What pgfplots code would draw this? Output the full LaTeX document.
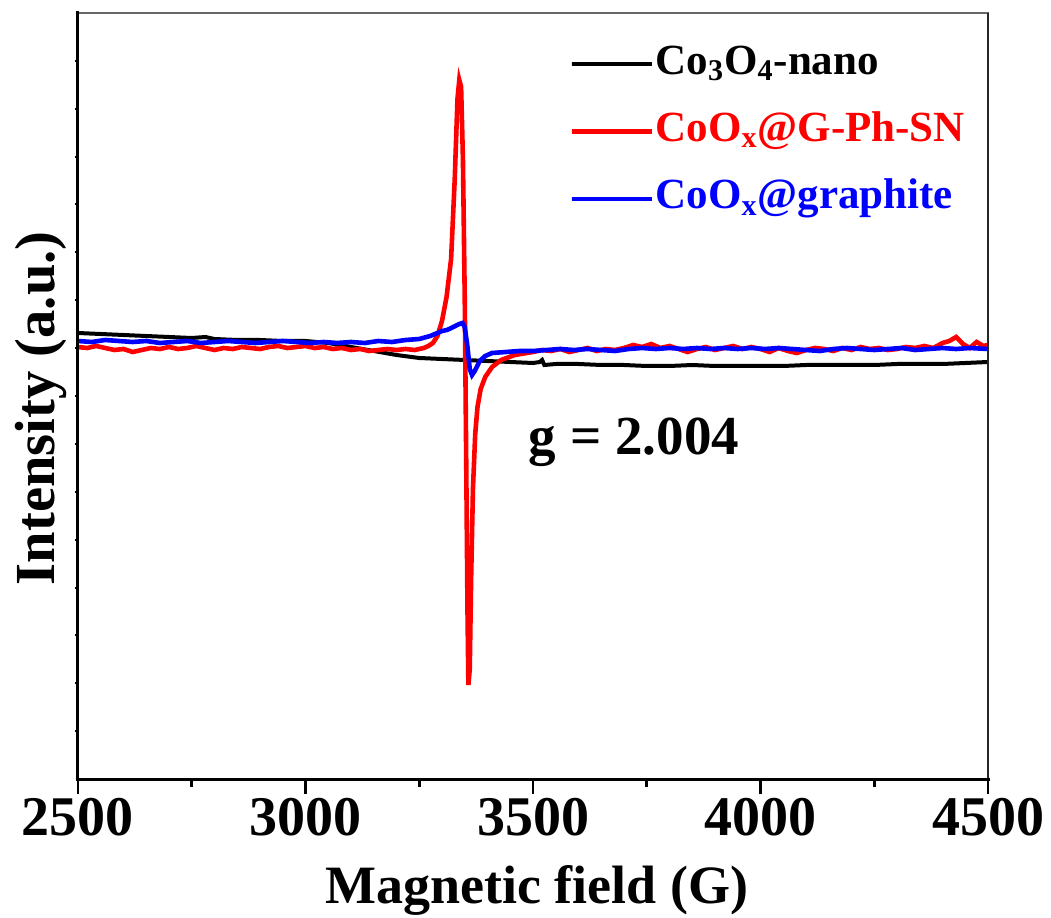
\documentclass[border=0pt]{standalone}
\usepackage{pgfplots}
\pgfplotsset{compat=1.18}
\usepackage{fontspec}
\setmainfont{Liberation Serif}
\begin{document}
\begin{tikzpicture}
\begin{axis}[
  scale only axis, width=455pt, height=383pt,
  xmin=2500, xmax=4500, ymin=0, ymax=766,
  axis line style={line width=0.6pt, black!60},
  xtick={2500,3000,3500,4000,4500},
  minor xtick={2750,3250,3750,4250},
  xtick pos=left,
  ytick=\empty,
  tick align=outside,
  major tick length=7.5pt, minor tick length=4pt,
  tick style={black, line width=1.2pt},
  /pgf/number format/assume math mode=true,
  /pgf/number format/1000 sep={},
  xticklabel style={font=\bfseries\fontsize{28}{30}\selectfont, anchor=base, yshift=-20.5pt},
  xlabel={Magnetic field (G)},
  ylabel={Intensity (a.u.)},
  xlabel style={font=\bfseries\fontsize{27}{30}\selectfont, at={(axis description cs:0.504,0)}, anchor=base, yshift=-62pt},
  ylabel style={font=\bfseries\fontsize{28.3}{30}\selectfont, at={(axis description cs:0,0.484)}, anchor=south, inner sep=0pt, yshift=5.5pt},
  legend style={draw=none, fill=none, at={(axis description cs:0.540,0.962)}, anchor=north west,
     inner sep=0pt, outer sep=0pt, column sep=0.8pt, row sep=11.7pt,
     nodes={inner sep=0pt, text height=16pt, text depth=6pt},
     font=\bfseries\fontsize{21.5}{24}\selectfont},
  legend cell align=left,
  legend image code/.code={\path (0pt,0pt) -- (40pt,0pt); \draw[#1, line width=2.2pt, line cap=round] (1.1pt,0pt) -- (38.9pt,0pt);},
  clip=false,
]
\addplot[black, line width=2pt] coordinates {
(2500,446) (2550,445) (2600,444) (2650,443) (2700,442) (2750,441) (2780,442) (2800,440) (2850,439) (2900,439) (2950,438) (3000,438) (3050,436) (3100,432) (3150,428) (3200,424) (3250,421) (3300,420) (3350,419) (3400,418) (3450,417) (3500,416) (3515,417) (3520,419) (3525,414) (3550,415) (3600,415) (3650,414) (3700,414) (3750,413) (3800,413) (3850,414) (3900,413) (3950,413) (4000,413) (4050,413) (4100,414) (4150,414) (4200,414) (4250,414) (4300,415) (4350,415) (4400,415) (4450,416) (4500,417)
};
\addlegendentry{Co\textsubscript{3}O\textsubscript{4}-nano}
\addplot[red, line width=2.3pt] coordinates {
(2500,432) (2520,431) (2540,433) (2560,431) (2580,429) (2600,430) (2620,427) (2640,429) (2660,431) (2680,430) (2700,432) (2720,430) (2740,431) (2760,433) (2780,431) (2800,429) (2820,431) (2840,430) (2860,432) (2880,431) (2900,430) (2920,432) (2940,433) (2960,431) (2980,432) (3000,433) (3020,431) (3040,432) (3060,430) (3080,431) (3100,429) (3120,430) (3140,428) (3160,429) (3180,430) (3200,429) (3220,430) (3240,429) (3260,431) (3270,433) (3280,436) (3290,443) (3300,458) (3310,482) (3320,520) (3328,600) (3334,680) (3338,699) (3342,692) (3346,620) (3350,480) (3353,330) (3356,170) (3358,94) (3361,110) (3364,200) (3368,290) (3373,345) (3378,372) (3385,390) (3395,402) (3410,412) (3430,419) (3460,424) (3500,427) (3520,429) (3540,428) (3560,430) (3580,427) (3600,429) (3620,431) (3640,428) (3660,430) (3680,429) (3700,431) (3720,434) (3740,432) (3760,435) (3780,431) (3800,433) (3820,430) (3840,427) (3860,430) (3880,432) (3900,429) (3920,431) (3940,433) (3960,430) (3980,432) (4000,430) (4020,427) (4040,431) (4060,428) (4080,426) (4100,429) (4120,431) (4140,430) (4160,428) (4180,431) (4200,429) (4220,432) (4240,430) (4260,431) (4280,429) (4300,430) (4320,432) (4340,431) (4360,433) (4380,431) (4400,436) (4415,438) (4430,442) (4445,435) (4460,431) (4475,437) (4490,433) (4500,434)
};
\addlegendentry{\textcolor{red}{CoO\textsubscript{x}@G-Ph-SN}}
\addplot[blue, line width=2.3pt] coordinates {
(2500,438) (2530,437) (2560,439) (2590,438) (2620,437) (2650,438) (2680,436) (2710,437) (2740,438) (2770,436) (2800,437) (2830,438) (2860,437) (2890,436) (2920,437) (2950,438) (2980,437) (3010,436) (3040,437) (3070,436) (3100,437) (3130,436) (3160,438) (3190,437) (3220,439) (3250,440) (3274,443) (3290,446) (3300,448) (3311,449) (3325,452) (3338,455) (3345,456) (3350,452) (3356,432) (3361,410) (3366,404) (3372,408) (3383,418) (3395,423) (3410,426) (3440,427) (3470,428) (3500,428) (3530,429) (3560,430) (3590,429) (3620,430) (3650,429) (3680,428) (3710,430) (3740,431) (3770,430) (3800,431) (3830,430) (3860,431) (3890,430) (3920,431) (3950,430) (3980,431) (4010,430) (4040,431) (4070,430) (4100,429) (4130,428) (4160,430) (4190,431) (4220,430) (4250,429) (4280,430) (4310,431) (4340,429) (4370,430) (4400,431) (4430,430) (4460,431) (4500,430)
};
\addlegendentry{\textcolor{blue}{CoO\textsubscript{x}@graphite}}
\draw[black!85, line width=0.6pt] (rel axis cs:1,1) -- (rel axis cs:1,0);
\draw[black, line width=1.5pt, line cap=rect] (rel axis cs:0,1) -- (rel axis cs:0,0) -- (rel axis cs:1,0);
\pgfplotsinvokeforeach{1,...,15}{\draw[black, line width=1pt] (rel axis cs:0,#1/16) -- ++(-1.5pt,0pt);}
\pgfplotsinvokeforeach{0,0.25,0.5,0.75,1}{\draw[black, line width=1.3pt] (rel axis cs:#1,0) -- ++(0pt,-7.5pt);}
\pgfplotsinvokeforeach{0.125,0.375,0.625,0.875}{\draw[black, line width=1.3pt] (rel axis cs:#1,0) -- ++(0pt,-4pt);}
\node[anchor=base, font=\bfseries\fontsize{27.5}{30}\selectfont, inner sep=0pt] at (axis cs:3722,324) {g = 2.004};
\end{axis}
\pgfresetboundingbox
\path (current axis.south west) ++(-39pt,-69pt) coordinate (bbA);
\path (current axis.north east) ++(31.5pt,6.5pt) coordinate (bbB);
\useasboundingbox (bbA) rectangle (bbB);
\end{tikzpicture}
\end{document}
